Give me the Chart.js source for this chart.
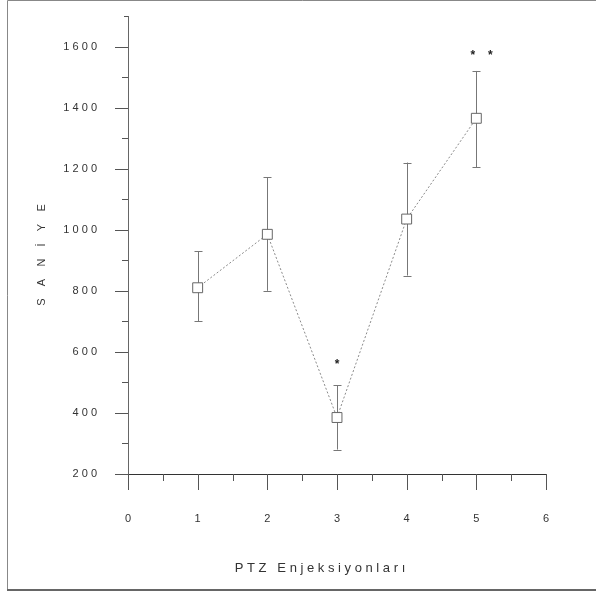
<!DOCTYPE html>
<html lang="tr">
<head>
  <meta charset="UTF-8"/>
  <title>PTZ Enjeksiyonları - Saniye</title>
  <script src="https://cdn.jsdelivr.net/npm/chart.js"></script>
  <style>
    * { box-sizing: border-box; margin: 0; padding: 0; }
    body { background: #fff; }
    #wrap { position: relative; width: 596px; height: 592px; }
  </style>
</head>
<body>
  <div id="wrap"><canvas id="ptzChart" width="596" height="592"></canvas></div>

  <script>
    // Data (mean and error bar ends, in seconds)
    const injections = [1, 2, 3, 4, 5];
    const meanSec  = [810, 985, 385, 1035, 1365];
    const upperSec = [930, 1172, 490, 1220, 1520];
    const lowerSec = [700, 800, 280, 850, 1205];

    // significance marks
    const starX = [3, 4.95, 5.2];
    const starY = [567, 1580, 1580];

    // tick labels shown on the axes
    const yLabels = [200, 400, 600, 800, 1000, 1200, 1400, 1600];
    const xLabels = [0, 1, 2, 3, 4, 5, 6];

    const FONT = "'Liberation Sans', Arial, sans-serif";
    const spaced = (s, gap) => String(s).split('').join(gap);

    const points = injections.map((v, i) => ({ x: v, y: meanSec[i] }));

    // extra drawing: tick marks, error bars, stars, titles, frame
    const extras = {
      id: 'extras',
      beforeDatasetsDraw(chart) {
        const { ctx, chartArea: area, scales: { x, y } } = chart;
        ctx.save();
        ctx.lineWidth = 1;

        // y tick marks (major every 200, minor every 100)
        ctx.strokeStyle = '#555';
        y.ticks.forEach(t => {
          const py = Math.round(y.getPixelForValue(t.value)) + 0.5;
          let len = t.value % 200 === 0 ? 13 : 6;
          if (t.value === y.max) len = 4;
          ctx.beginPath();
          ctx.moveTo(area.left - len, py);
          ctx.lineTo(area.left, py);
          ctx.stroke();
        });

        // x tick marks (integers long, halves short)
        x.ticks.forEach(t => {
          const px = Math.round(x.getPixelForValue(t.value)) + 0.5;
          const len = Number.isInteger(t.value) ? 16 : 7;
          ctx.beginPath();
          ctx.moveTo(px, area.bottom);
          ctx.lineTo(px, area.bottom + len);
          ctx.stroke();
        });

        // error bars
        ctx.strokeStyle = '#777';
        injections.forEach((v, i) => {
          const px = Math.round(x.getPixelForValue(v)) + 0.5;
          const top = y.getPixelForValue(upperSec[i]);
          const bot = y.getPixelForValue(lowerSec[i]);
          ctx.beginPath();
          ctx.moveTo(px, top); ctx.lineTo(px, bot);
          ctx.moveTo(px - 4, Math.round(top) + 0.5); ctx.lineTo(px + 4, Math.round(top) + 0.5);
          ctx.moveTo(px - 4, Math.round(bot) + 0.5); ctx.lineTo(px + 4, Math.round(bot) + 0.5);
          ctx.stroke();
        });
        ctx.restore();
      },
      afterDraw(chart) {
        const { ctx, scales: { x, y } } = chart;
        ctx.save();

        // stars
        ctx.fillStyle = '#222';
        ctx.font = 'bold 12px ' + FONT;
        ctx.textAlign = 'center';
        ctx.textBaseline = 'middle';
        starX.forEach((v, i) => {
          ctx.fillText('*', x.getPixelForValue(v), y.getPixelForValue(starY[i]) + 3);
        });

        // axis titles
        ctx.fillStyle = '#333';
        ctx.font = '13px ' + FONT;
        ctx.fillText('P T Z   E n j e k s i y o n l a r ı', 320, 568);

        ctx.font = '11px ' + FONT;
        ctx.translate(42, 255);
        ctx.rotate(-Math.PI / 2);
        ctx.fillText('S    A    N    İ    Y    E', 0, 0);
        ctx.restore();

        // frame of the figure
        ctx.save();
        ctx.strokeStyle = '#888';
        ctx.lineWidth = 1;
        ctx.beginPath();
        ctx.moveTo(598, 0.5); ctx.lineTo(7.5, 0.5); ctx.lineTo(7.5, 590);
        ctx.stroke();
        ctx.strokeStyle = '#666';
        ctx.lineWidth = 2;
        ctx.beginPath();
        ctx.moveTo(7, 590); ctx.lineTo(598, 590);
        ctx.stroke();
        ctx.restore();
      }
    };

    const ctx = document.getElementById('ptzChart').getContext('2d');
    new Chart(ctx, {
      type: 'scatter',
      data: {
        datasets: [
          {
            label: 'Saniye',
            data: points,
            showLine: true,
            borderColor: '#8a8a8a',
            borderWidth: 1,
            borderDash: [2, 2],
            pointStyle: 'rect',
            pointRadius: 7,
            pointHoverRadius: 7,
            pointBorderColor: '#666',
            pointBorderWidth: 1,
            pointBackgroundColor: '#fff'
          },
          {
            label: 'centre',
            data: points,
            showLine: false,
            pointStyle: 'circle',
            pointRadius: 1.6,
            pointBorderWidth: 0,
            pointBackgroundColor: '#333'
          }
        ]
      },
      options: {
        responsive: false,
        animation: false,
        layout: { padding: { left: 0, right: 50, top: 16, bottom: 0 } },
        plugins: {
          legend: { display: false },
          tooltip: { enabled: false }
        },
        scales: {
          x: {
            type: 'linear',
            min: 0,
            max: 6,
            afterFit: s => { s.height = 118; s.paddingLeft = 0; s.paddingRight = 0; },
            grid: { display: false, drawTicks: false },
            border: { display: true, color: '#333', width: 1 },
            ticks: {
              stepSize: 0.5,
              autoSkip: false,
              maxRotation: 0,
              padding: 38,
              color: '#333',
              font: { family: FONT, size: 11 },
              callback: v => xLabels.includes(v) ? String(v) : ''
            }
          },
          y: {
            type: 'linear',
            min: 200,
            max: 1700,
            afterFit: s => { s.width = 128; s.paddingTop = 0; s.paddingBottom = 0; },
            grid: { display: false, drawTicks: false },
            border: { display: true, color: '#666', width: 1 },
            ticks: {
              stepSize: 100,
              autoSkip: false,
              padding: 31,
              color: '#333',
              font: { family: FONT, size: 11 },
              callback: v => yLabels.includes(v) ? spaced(v, ' ') : ''
            }
          }
        }
      },
      plugins: [extras]
    });
  </script>
</body>
</html>
